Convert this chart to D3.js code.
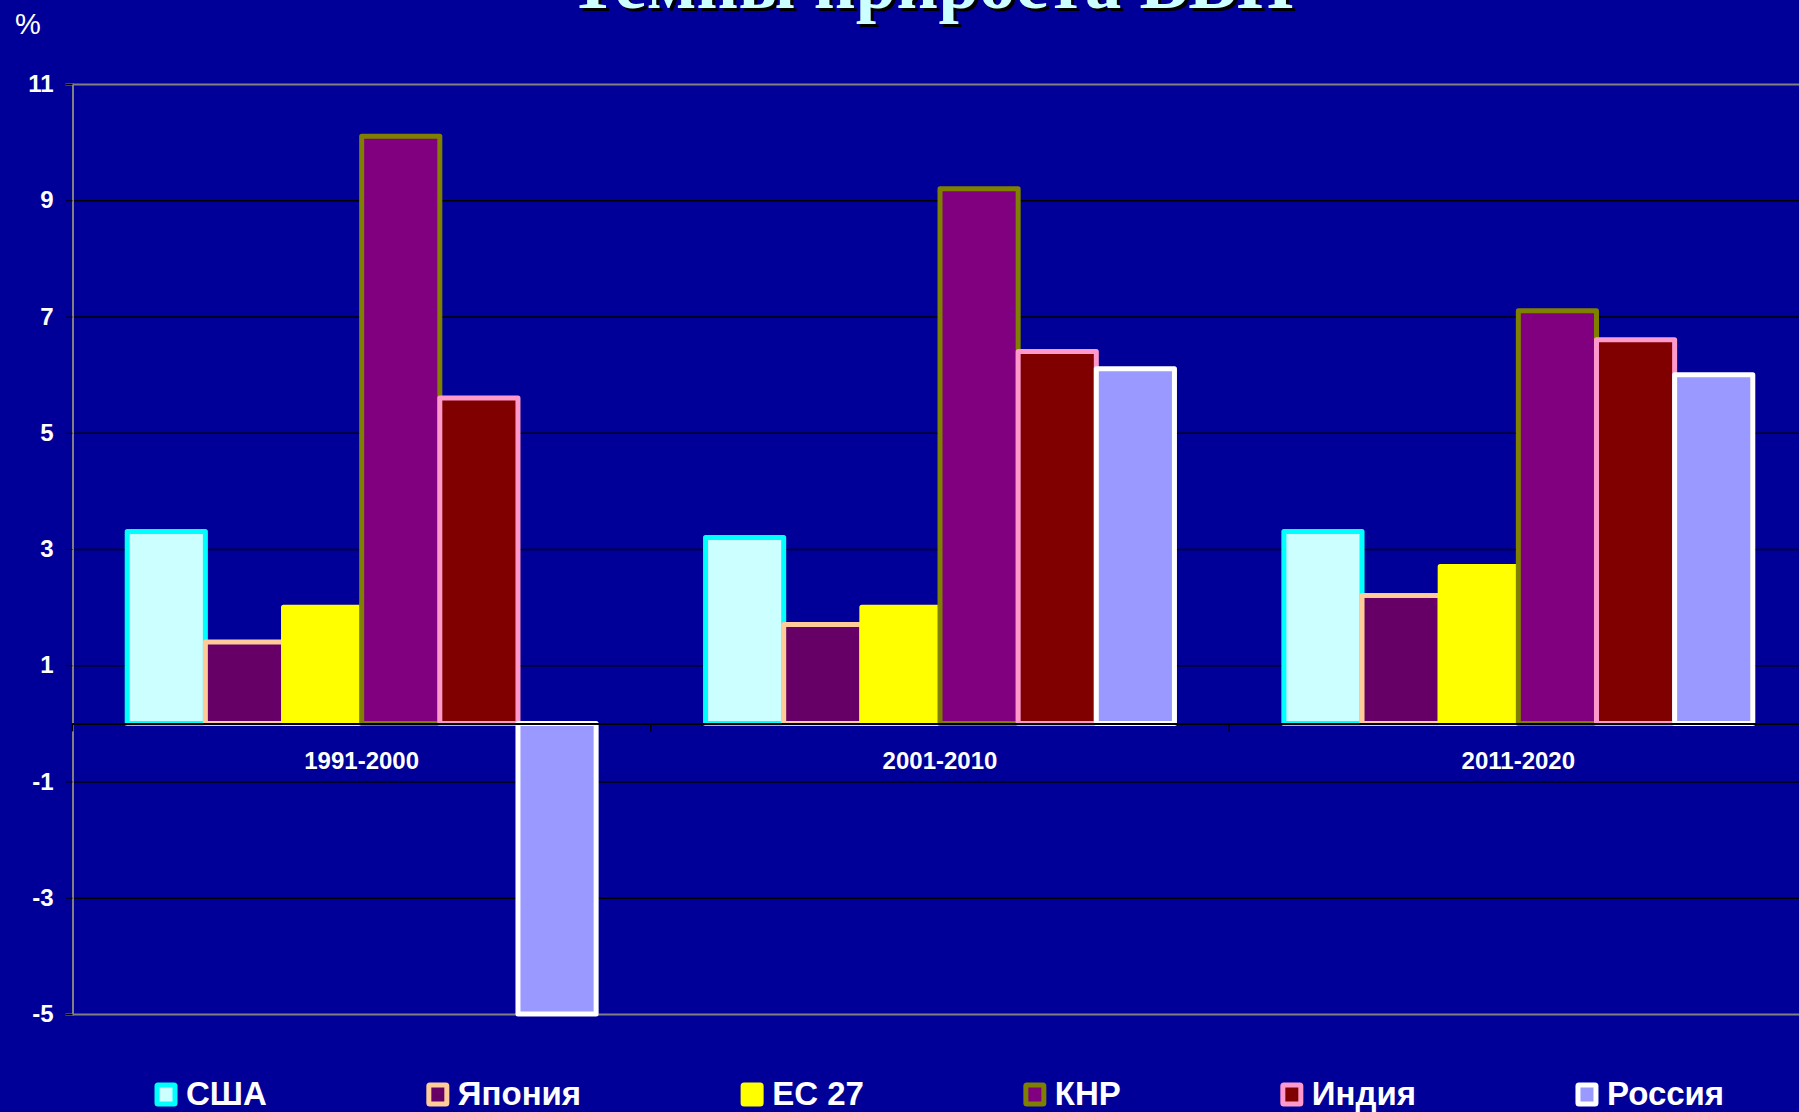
<!DOCTYPE html>
<html>
<head>
<meta charset="utf-8">
<script src="https://cdn.jsdelivr.net/npm/d3@7"></script>
<style>
  body { margin: 0; background: #000099; }
  text { font-family: "Liberation Sans", Arial, sans-serif; }
</style>
</head>
<body>
<div id="svg"></div>
<script>
const categories = ['1991-2000', '2001-2010', '2011-2020'];
const seriesNames = ['США', 'Япония', 'ЕС 27', 'КНР', 'Индия', 'Россия'];
const usa = [3.3, 3.2, 3.3];
const japan = [1.4, 1.7, 2.2];
const eu = [2.0, 2.0, 2.7];
const china = [10.1, 9.2, 7.1];
const india = [5.6, 6.4, 6.6];
const russia = [-5.0, 6.1, 6.0];
const yTicks = [11, 9, 7, 5, 3, 1, -1, -3, -5];

window.onload = function() {
    const width = 1799;
    const height = 1112;
    const left = 72.5;
    const right = 1807.5;
    const top = 84;
    const bottom = 1014;

    const seriesValues = [usa, japan, eu, china, india, russia];
    const fills = ['#CCFFFF', '#660066', '#FFFF00', '#800080', '#800000', '#9999FF'];
    const strokes = ['#00FFFF', '#FFCC99', '#FFFF00', '#808000', '#FF99CC', '#FFFFFF'];

    const xScale = d3.scaleBand()
                        .domain(categories)
                        .range([left, right]);

    const xInner = d3.scaleBand()
                        .domain(seriesNames)
                        .range([0, xScale.bandwidth()])
                        .paddingInner(0)
                        .paddingOuter(0.7);

    const yScale = d3.scaleLinear()
                        .domain([-5, 11])
                        .range([bottom, top]);

    let svg = d3.select('#svg')
                    .append('svg')
                        .attr('width', width)
                        .attr('height', height)
                        .style('display', 'block');

    svg.append('rect')
        .attr('width', width)
        .attr('height', height)
        .attr('fill', '#000099');

    // title (cut at the top, as in the original slide)
    const title = 'Темпы прироста ВВП';
    svg.append('text')
        .attr('x', 934)
        .attr('y', 11)
        .attr('text-anchor', 'middle')
        .style('font-family', '"Liberation Serif", "Times New Roman", serif')
        .style('font-weight', 'bold')
        .style('font-size', '73px')
        .attr('fill', '#000000')
        .text(title);
    svg.append('text')
        .attr('x', 931)
        .attr('y', 8)
        .attr('text-anchor', 'middle')
        .style('font-family', '"Liberation Serif", "Times New Roman", serif')
        .style('font-weight', 'bold')
        .style('font-size', '73px')
        .attr('fill', '#CCFFFF')
        .text(title);

    svg.append('text')
        .attr('x', 28)
        .attr('y', 34)
        .attr('text-anchor', 'middle')
        .attr('fill', 'white')
        .style('font-size', '29px')
        .text('%');

    // gridlines
    svg.append('g')
        .selectAll('line')
        .data(yTicks)
        .enter()
            .append('line')
                .attr('x1', left)
                .attr('x2', width)
                .attr('y1', (d) => yScale(d) + 0.5)
                .attr('y2', (d) => yScale(d) + 0.5)
                .attr('stroke', (d) => (d == 11 || d == -5) ? '#808080' : '#000000')
                .attr('stroke-width', (d) => (d == 11 || d == -5) ? 2 : 1.5);

    // y-axis
    let yAxis = svg.append('g')
        .attr('transform', `translate(${left}, 0)`)
        .call(d3.axisLeft(yScale).tickValues(yTicks).tickSize(7).tickPadding(12).tickFormat((d) => String(d)));
    yAxis.select('.domain').attr('stroke', '#808080').attr('stroke-width', 2);
    yAxis.selectAll('.tick line').attr('stroke', '#000000');
    yAxis.selectAll('.tick text')
        .attr('fill', 'white')
        .style('font-size', '24px')
        .style('font-weight', 'bold')
        .style('font-family', '"Liberation Sans", Arial, sans-serif');

    // bars
    let groups = svg.append('g')
        .selectAll('g')
        .data(seriesNames)
        .enter()
            .append('g');

    groups.selectAll('rect')
        .data((name, i) => categories.map((c, j) => ({cat: c, name: name, idx: i, value: seriesValues[i][j]})))
        .enter()
            .append('rect')
                .attr('x', (d) => xScale(d.cat) + xInner(d.name))
                .attr('y', (d) => yScale(Math.max(0, d.value)))
                .attr('width', xInner.bandwidth())
                .attr('height', (d) => Math.abs(yScale(d.value) - yScale(0)))
                .attr('fill', (d) => fills[d.idx])
                .attr('stroke', (d) => strokes[d.idx])
                .attr('stroke-width', 5)
                .attr('stroke-linejoin', 'round');

    // x-axis at zero
    let xAxis = svg.append('g')
        .attr('transform', `translate(0, ${yScale(0)})`);
    xAxis.append('line')
        .attr('x1', left)
        .attr('x2', width)
        .attr('y1', 0.5)
        .attr('y2', 0.5)
        .attr('stroke', '#000000')
        .attr('stroke-width', 2);
    xAxis.selectAll('.tk')
        .data(categories.concat(['end']))
        .enter()
            .append('line')
                .attr('x1', (d, i) => left + i * xScale.step())
                .attr('x2', (d, i) => left + i * xScale.step())
                .attr('y1', 0)
                .attr('y2', 8)
                .attr('stroke', '#000000')
                .attr('stroke-width', 1.5);
    xAxis.selectAll('.lbl')
        .data(categories)
        .enter()
            .append('text')
                .attr('x', (d) => xScale(d) + xScale.bandwidth() / 2)
                .attr('y', 46)
                .attr('text-anchor', 'middle')
                .attr('fill', 'white')
                .style('font-size', '24px')
                .style('font-weight', 'bold')
                .text((d) => d);

    // legend
    let legend = svg.append('g');
    let lx = 155;
    seriesNames.forEach((name, i) => {
        legend.append('rect')
            .attr('x', lx + 2)
            .attr('y', 1085)
            .attr('width', 18)
            .attr('height', 19)
            .attr('fill', fills[i])
            .attr('stroke', strokes[i])
            .attr('stroke-width', 5)
            .attr('rx', 1);
        let t = legend.append('text')
            .attr('x', lx + 31)
            .attr('y', 1105)
            .attr('fill', 'white')
            .style('font-size', '33px')
            .style('font-weight', 'bold')
            .text(name);
        lx += 31 + t.node().getComputedTextLength() + 160;
    });
};
</script>
</body>
</html>
